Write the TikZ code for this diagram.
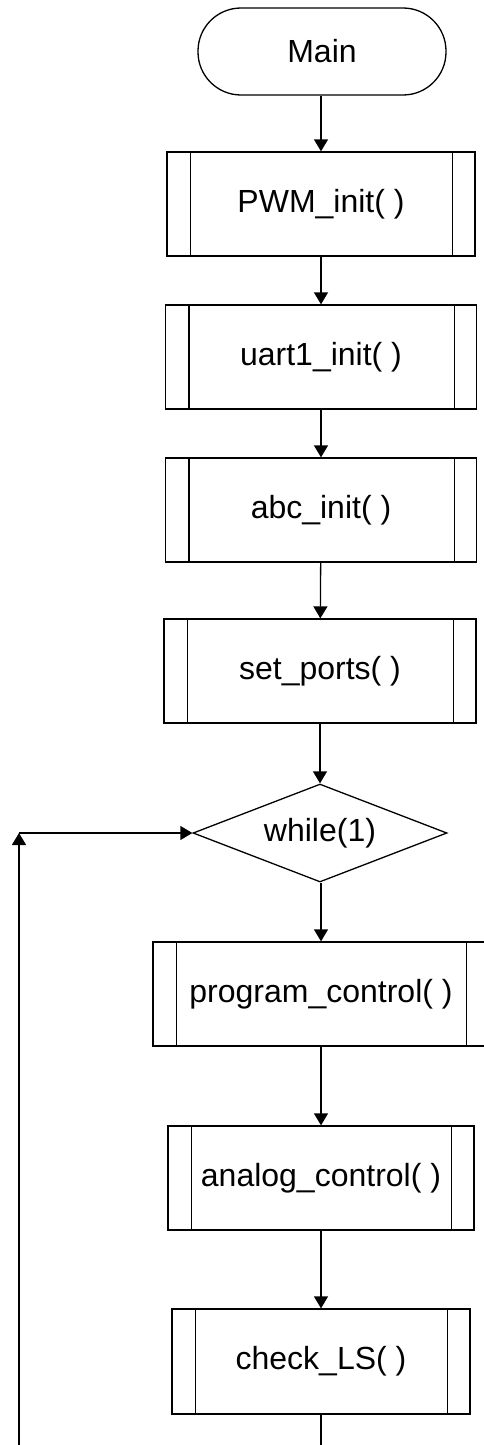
\documentclass[tikz,border=0pt]{standalone}
\usepackage{fontspec}
\setmainfont{Liberation Sans}
\usetikzlibrary{arrows.meta,shapes.geometric}
\begin{document}
\begin{tikzpicture}[x=1pt,y=-1pt,line width=1.3pt,
  every node/.style={font=\fontsize{32}{38}\selectfont},
  sub/.style={draw, rectangle, inner sep=0pt, minimum height=104pt},
  term/.style={draw, rectangle, rounded corners=43pt, minimum width=248pt, minimum height=87pt, inner sep=0pt},
  dec/.style={draw, diamond, aspect=2.6, minimum width=254pt, minimum height=98pt, inner sep=0pt},
  flow/.style={-{Triangle[length=12pt,width=14pt]}},
  plain/.style={-}]
\useasboundingbox (0,0) rectangle (483,1445);
\node[term] (main) at (322,51.5) {Main};
\node[sub, minimum width=308pt] (pwm) at (321,204) {PWM\_init( )};
\node[sub, minimum width=311pt] (uart) at (321,357) {uart1\_init( )};
\node[sub, minimum width=311pt] (abc) at (321,510) {abc\_init( )};
\node[sub, minimum width=312pt] (ports) at (320,671) {set\_ports( )};
\node[dec] (wh) at (320,833) {while(1)};
\node[sub, minimum width=336pt] (prog) at (321,994) {program\_control( )};
\node[sub, minimum width=306pt] (ana) at (321,1178) {analog\_control( )};
\node[sub, minimum width=298pt, minimum height=105pt] (chk) at (321,1361.5) {check\_LS( )};
\coordinate (bot) at (321,1446);
\coordinate (lb) at (19,1446);
\coordinate (lt) at (19,833);
\foreach \n in {pwm,uart,abc,ports,prog,ana,chk}{
  \draw ([xshift=24pt]\n.north west) -- ([xshift=24pt]\n.south west);
  \draw ([xshift=-23pt]\n.north east) -- ([xshift=-23pt]\n.south east);
}
\draw[flow] (main.south -| pwm.north) -- (pwm.north);
\draw[flow] (pwm) -- (uart);
\draw[flow] (uart) -- (abc);
\draw[flow] (abc) -- (ports);
\draw[flow] (ports.south) -- (ports.south |- wh.north);
\draw[flow] (wh.south -| prog.north) -- (prog.north);
\draw[flow] (prog) -- (ana);
\draw[flow] (ana) -- (chk);
\draw[plain] (chk.south) -- (bot);
\draw[flow] (lb) -- (lt);
\draw[flow] (lt) -- (wh.west);
\end{tikzpicture}
\end{document}
